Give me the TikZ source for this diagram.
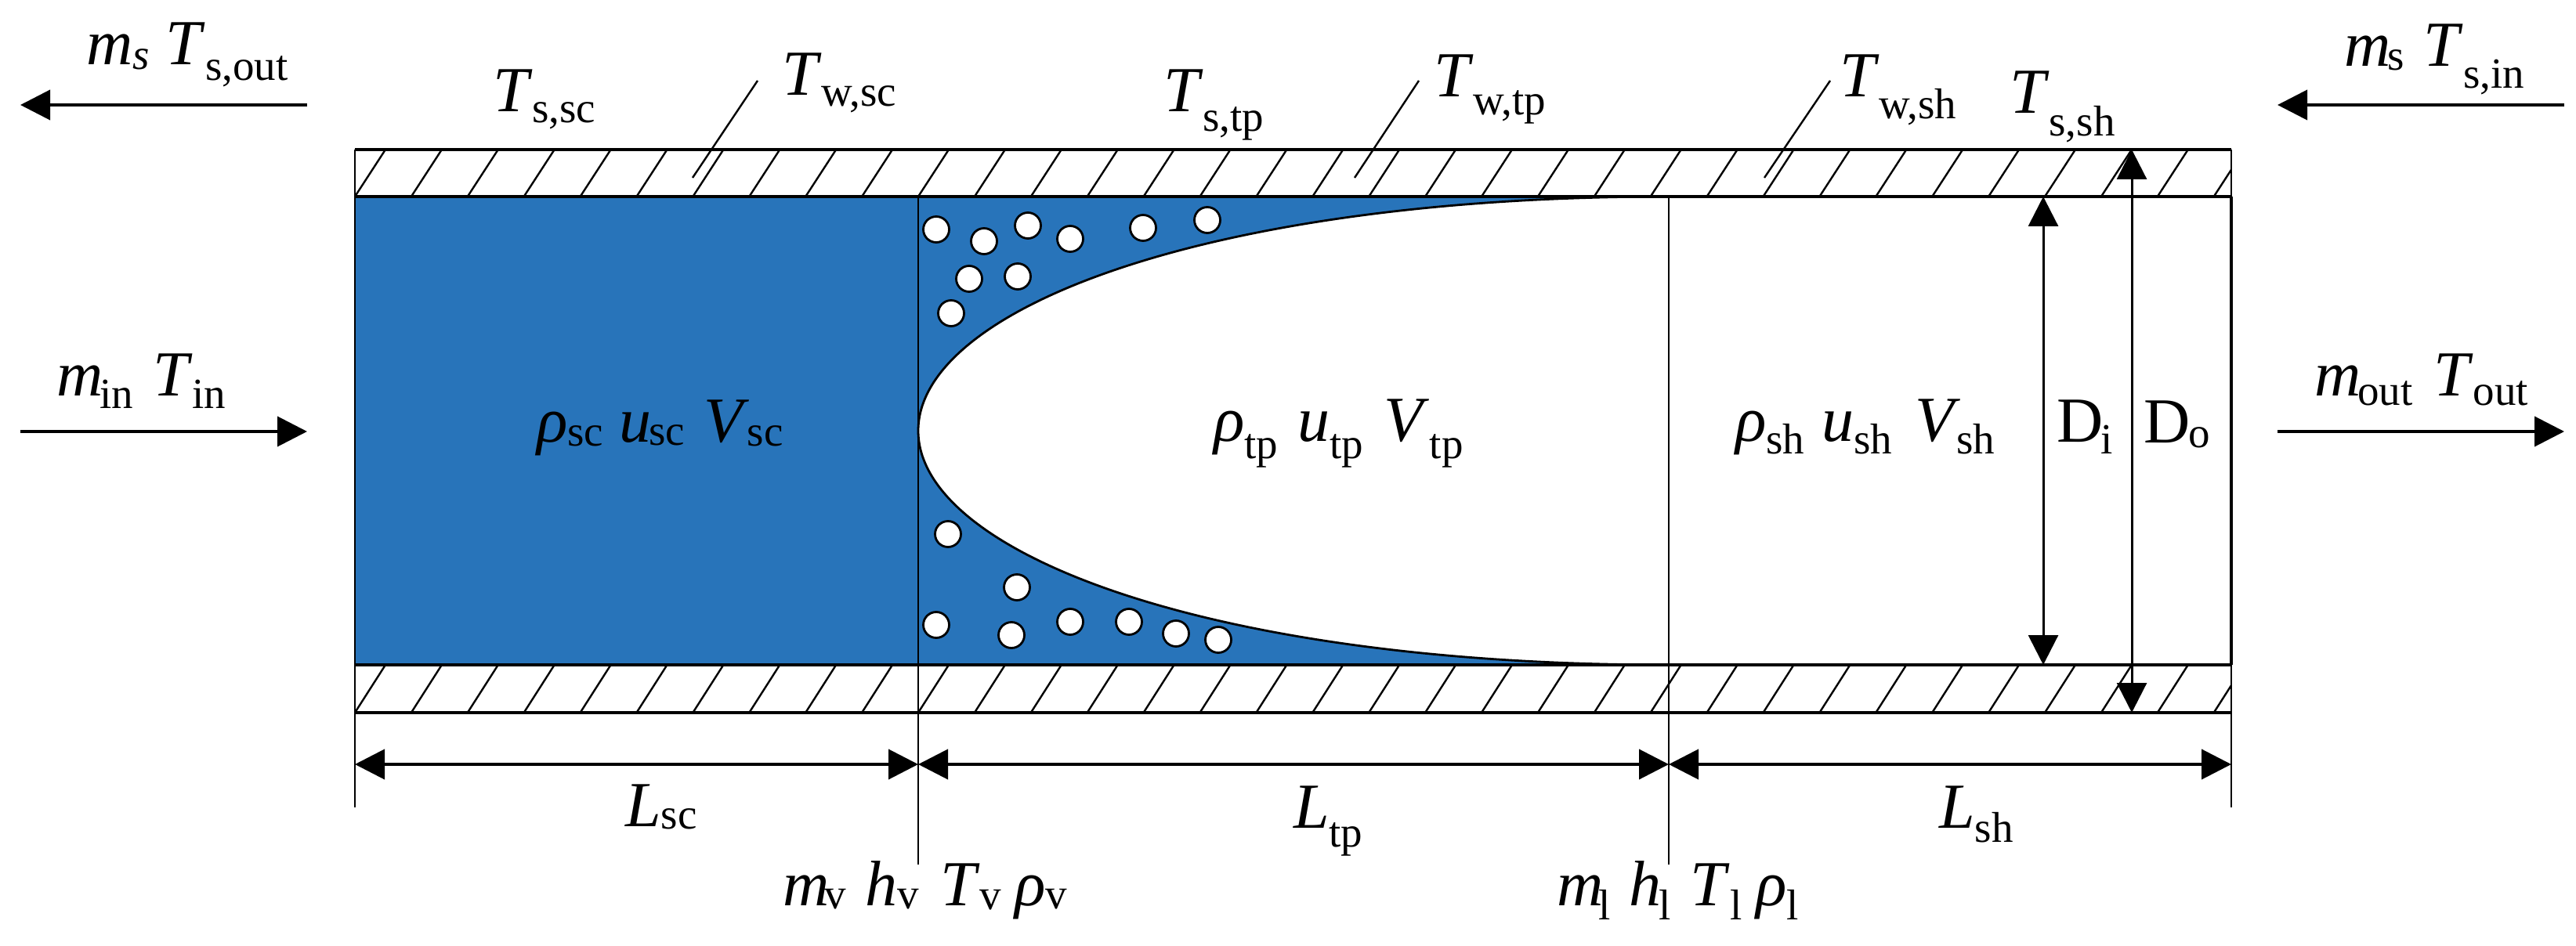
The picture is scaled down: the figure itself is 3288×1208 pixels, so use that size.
\documentclass[tikz,border=0pt]{standalone}
\usepackage{fontspec}
\setmainfont{Liberation Serif}
\usetikzlibrary{arrows.meta}
\definecolor{fluid}{RGB}{40,116,186}
\newlength{\pxu}\setlength{\pxu}{0.5pt}
% base symbol (italic), drop in em, subscript
\newcommand{\Sy}[3]{\textit{#1}\raisebox{-#2em}{\fontsize{27.5pt}{30pt}\selectfont #3}}
\newcommand{\Sk}[4]{\textit{#1}\kern-#2\pxu\raisebox{-#3em}{\fontsize{27.5pt}{30pt}\selectfont #4}}
\newcommand{\Sm}[3]{\Sk{m}{#1}{#2}{#3}}
\newcommand{\Gp}[1]{\hspace*{#1\pxu}}
\tikzset{
  lab/.style={anchor=base west,inner sep=0pt,outer sep=0pt,font=\fontsize{41pt}{44pt}\selectfont},
  wall/.style={line width=1.6pt,black},
  thin line/.style={line width=1.4pt,black},
  hatch/.style={line width=1.2pt,black},
  leader/.style={line width=1.2pt,black},
  flow/.style={line width=2pt,black,-{Triangle[length=19pt,width=19pt]}},
  dim/.style={line width=2pt,black,{Triangle[length=19pt,width=19pt]}-{Triangle[length=19pt,width=19pt]}},
  dia/.style={line width=1.5pt,black,{Triangle[length=19pt,width=19pt]}-{Triangle[length=19pt,width=19pt]}},
  bubble/.style={circle,draw=black,fill=white,line width=1.4pt,minimum size=16.5pt,inner sep=0pt}
}
\begin{document}
\begin{tikzpicture}[x=0.5pt,y=-0.5pt]
\path[use as bounding box,fill=white] (0,0) rectangle (3288,1208);
% key points
\coordinate (WL) at (453,191); \coordinate (WR) at (2848,191);
\coordinate (IL) at (453,251); \coordinate (IR) at (2848,251);
\coordinate (JL) at (453,849); \coordinate (JR) at (2848,849);
\coordinate (XL) at (453,910); \coordinate (XR) at (2848,910);
% fluid
\fill[fluid] (453,251) -- (2130,251) .. controls (1540,251) and (1172,395) .. (1172,550)
  .. controls (1172,705) and (1540,849) .. (2130,849) -- (453,849) -- cycle;
\draw[thin line] (2130,251) .. controls (1540,251) and (1172,395) .. (1172,550)
  .. controls (1172,705) and (1540,849) .. (2130,849);
% hatching
\begin{scope}
\clip (WL) rectangle (IR);
\foreach \k in {0,...,33}{\draw[hatch] ({453+\k*71.9},251) -- ({453+\k*71.9+39},191);}
\end{scope}
\begin{scope}
\clip (JL) rectangle (XR);
\foreach \k in {0,...,33}{\draw[hatch] ({453+\k*71.9},910) -- ({453+\k*71.9+39},849);}
\end{scope}
% walls
\draw[wall] (WL) -- (WR);
\draw[wall] (IL) -- (IR);
\draw[line width=2.4pt,black] (JL) -- (JR);
\draw[wall] (XL) -- (XR);
% end and station lines
\coordinate (EL) at (453,1031); \coordinate (ER) at (2848,1031);
\coordinate (S1t) at (1172,251); \coordinate (S1b) at (1172,1104);
\coordinate (S2t) at (2130,251); \coordinate (S2b) at (2130,1104);
\draw[thin line] (WL) -- (EL);
\draw[thin line] (WR) -- (ER);
\draw[wall] (IR) -- (JR);
\draw[thin line] (S1t) -- (S1b);
\draw[thin line] (S2t) -- (S2b);
% bubbles
\foreach \n/\x/\y in {a/1195/293,b/1256/308,c/1312/288,d/1366/305,e/1459/291,f/1541/281,g/1237/356,h/1299/353,i/1214/400,
  j/1210/682,k/1298/750,l/1195/798,m/1291/811,n/1366/794,o/1441/794,p/1501/809,q/1555/817}
  {\node[bubble] (bub\n) at (\x,\y) {};}
% leaders
\coordinate (La) at (967,103); \coordinate (Lb) at (884,227);
\coordinate (Lc) at (1811,103); \coordinate (Ld) at (1729,227);
\coordinate (Le) at (2336,103); \coordinate (Lf) at (2252,227);
\draw[leader] (La) -- (Lb);
\draw[leader] (Lc) -- (Ld);
\draw[leader] (Le) -- (Lf);
% flow arrows
\coordinate (A1a) at (392,134); \coordinate (A1b) at (26,134);
\coordinate (A2a) at (26,551); \coordinate (A2b) at (392,551);
\coordinate (A3a) at (3273,134); \coordinate (A3b) at (2907,134);
\coordinate (A4a) at (2907,551); \coordinate (A4b) at (3273,551);
\draw[flow] (A1a) -- (A1b);
\draw[flow] (A2a) -- (A2b);
\draw[flow] (A3a) -- (A3b);
\draw[flow] (A4a) -- (A4b);
% dimension arrows
\coordinate (D1) at (453,976); \coordinate (D2) at (1172,976);
\coordinate (D3) at (2130,976); \coordinate (D4) at (2848,976);
\draw[dim] (D1) -- (D2);
\draw[dim] (D2) -- (D3);
\draw[dim] (D3) -- (D4);
\coordinate (Dia) at (2608,251); \coordinate (Dib) at (2608,849);
\coordinate (Doa) at (2721,191); \coordinate (Dob) at (2721,910);
\draw[dia] (Dia) -- (Dib);
\draw[dia] (Doa) -- (Dob);
% labels
\node[lab] (msout) at (110,83) {\Sm{0}{.07}{\textit{s}}\Gp{21}\Sy{T}{.24}{s,out}};
\node[lab] (tssc) at (629,143) {\Sy{T}{.16}{s,sc}};
\node[lab] (twsc) at (998,122) {\Sy{T}{.17}{w,sc}};
\node[lab] (tstp) at (1485,143) {\Sy{T}{.3}{s,tp}};
\node[lab] (twtp) at (1830,124) {\Sy{T}{.28}{w,tp}};
\node[lab] (twsh) at (2348,124) {\Sy{T}{.33}{w,sh}};
\node[lab] (tssh) at (2565,145) {\Sy{T}{.35}{s,sh}};
\node[lab] (msin) at (2992,85) {\Sm{4}{.05}{s}\Gp{25}\Sy{T}{.34}{s,in}};
\node[lab] (minl) at (72,505) {\Sm{4}{.2}{in}\Gp{25}\Sy{T}{.2}{in}};
\node[lab] (moutl) at (2954,505) {\Sm{4}{.15}{out}\Gp{27}\Sy{T}{.15}{out}};
\node[lab] (rsc) at (685,564) {\Sy{ρ}{.07}{sc}\Gp{20}\Sk{u}{3}{.05}{sc}\Gp{25}\Sk{V}{3}{.07}{sc}};
\node[lab] (rtp) at (1549,563) {\Sy{ρ}{.28}{tp}\Gp{25}\Sy{u}{.28}{tp}\Gp{27}\Sy{V}{.28}{tp}};
\node[lab] (rsh) at (2215,563) {\Sy{ρ}{.2}{sh}\Gp{22}\Sy{u}{.2}{sh}\Gp{29}\Sk{V}{5}{.2}{sh}};
\node[lab] (di) at (2625,564) {D\kern-3\pxu\raisebox{-.19em}{\fontsize{27.5pt}{30pt}\selectfont i}};
\node[lab] (do) at (2736,566) {D\kern-2\pxu\raisebox{-.07em}{\fontsize{27.5pt}{30pt}\selectfont o}};
\node[lab] (lsc) at (798,1055) {\Sy{L}{.04}{sc}};
\node[lab] (ltp) at (1651,1057) {\Sy{L}{.3}{tp}};
\node[lab] (lsh) at (2475,1057) {\Sy{L}{.22}{sh}};
\node[lab] (vap) at (999,1156) {\Sm{6}{.05}{v}\Gp{25}\Sy{h}{.05}{v}\Gp{27}\Sy{T}{.07}{v}\Gp{17}\Sy{ρ}{.05}{v}};
\node[lab] (liq) at (1987,1156) {\Sm{6}{.22}{l}\Gp{24}\Sk{h}{3}{.22}{l}\Gp{25}\Sy{T}{.22}{l}\Gp{18}\Sy{ρ}{.22}{l}};
\end{tikzpicture}
\end{document}
